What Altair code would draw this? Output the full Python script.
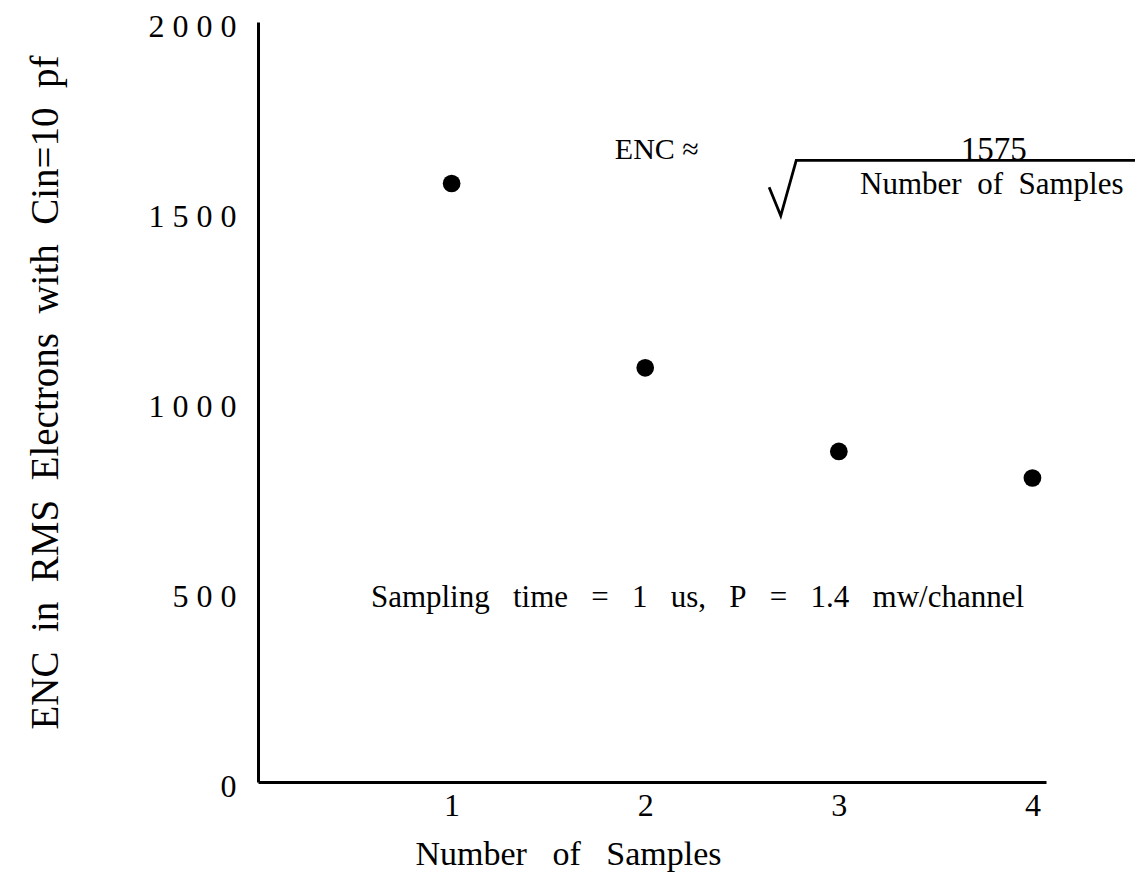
import altair as alt
import pandas as pd

samples = [1, 2, 3, 4]
enc = [1575, 1090, 870, 800]

y_ticks = [0, 500, 1000, 1500, 2000]
x_ticks = [1, 2, 3, 4]

FONT = "Liberation Serif"
sp = "\u2005"
nb2 = "\u00a0\u00a0"
nb3 = "\u00a0\u00a0\u00a0"

df = pd.DataFrame({"samples": samples, "enc": enc})

# annotation text (data coordinates)
ann_text = ["ENC \u2248", "1575", nb2.join(["Number", "of", "Samples"]),
            nb3.join(["Sampling", "time", "=", "1", "us,", "P", "=", "1.4", "mw/channel"])]
ann_x = [2.06, 3.80, 3.79, 2.27]
ann_y = [1664, 1664, 1572, 483]
ann_size = [30, 33, 31, 31]
ann = pd.DataFrame({"t": ann_text, "x": ann_x, "y": ann_y, "s": ann_size})

# radical sign path
rad_x = [2.64, 2.70, 2.78, 4.54]
rad_y = [1565, 1490, 1636, 1636]
rad = pd.DataFrame({"x": rad_x, "y": rad_y, "o": list(range(len(rad_x)))})

xscale = alt.Scale(domain=[0, 4.07], nice=False, zero=False)
yscale = alt.Scale(domain=[0, 2000], nice=False)

base = alt.Chart(df).encode(
    x=alt.X("samples:Q", scale=xscale,
            axis=alt.Axis(values=x_ticks, format="d", title=nb3.join(["Number", "of", "Samples"]),
                          grid=False, ticks=False, domainColor="black", domainWidth=3,
                          labelFont=FONT, labelFontSize=32, labelColor="black", labelPadding=8,
                          titleFont=FONT, titleFontSize=34, titleFontWeight="normal",
                          titleColor="black", titleX=310, titleY=72,
                          titleBaseline="middle", titleAlign="center")),
    y=alt.Y("enc:Q", scale=yscale,
            axis=alt.Axis(values=y_ticks, format="d",
                          title=nb2.join(["ENC", "in", "RMS", "Electrons", "with", "Cin=10", "pf"]),
                          grid=False, ticks=False, domainColor="black", domainWidth=3,
                          labelFont=FONT, labelFontSize=32, labelColor="black", labelPadding=22,
                          labelOffset=4,
                          labelExpr="join(split(datum.label, ''), '" + sp + "')",
                          titleFont=FONT, titleFontSize=39, titleFontWeight="normal",
                          titleColor="black", titleX=-213, titleY=370, titleAngle=-90,
                          titleBaseline="middle", titleAlign="center")),
)

points = base.mark_circle(size=314, color="black", opacity=1)

texts = alt.Chart(ann).mark_text(font=FONT, color="black", align="center",
                                 baseline="middle").encode(
    x=alt.X("x:Q", scale=xscale), y=alt.Y("y:Q", scale=yscale), text="t:N",
    size=alt.Size("s:Q", scale=None, legend=None))

radical = alt.Chart(rad).mark_line(color="black", strokeWidth=2.8, clip=False).encode(
    x=alt.X("x:Q", scale=xscale), y=alt.Y("y:Q", scale=yscale), order="o:Q")

chart = alt.layer(points, texts, radical).properties(
    width=788, height=760,
    background="white",
    autosize=alt.AutoSizeParams(type="none"),
    padding={"left": 250, "top": 14, "right": 89, "bottom": 92},
).configure_view(stroke=None, strokeWidth=0)

chart.save("out.html", embed_options={"renderer": "svg", "actions": False})
